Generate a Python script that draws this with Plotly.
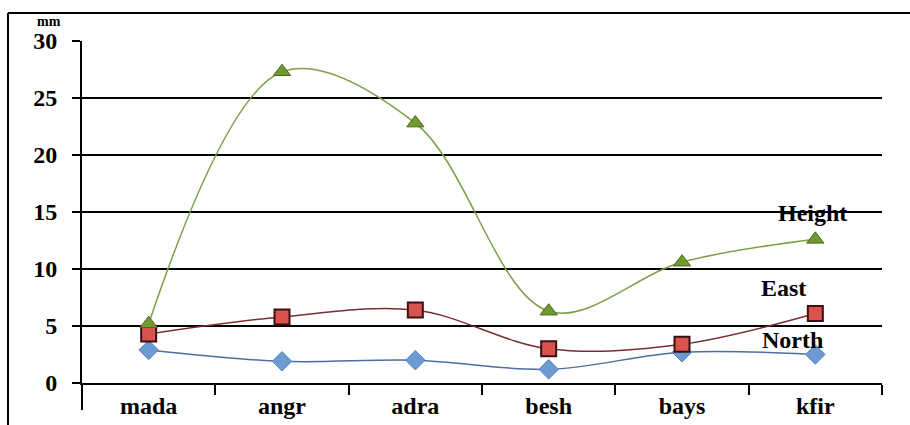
import plotly.graph_objects as go

categories = ["mada", "angr", "adra", "besh", "bays", "kfir"]
height_vals = [5.2, 27.3, 22.8, 6.3, 10.6, 12.6]
east_vals = [4.3, 5.8, 6.4, 3.0, 3.4, 6.1]
north_vals = [2.9, 1.9, 2.0, 1.2, 2.7, 2.5]
y_ticks = [0, 5, 10, 15, 20, 25, 30]

FONT = "Liberation Serif, Times New Roman, serif"

fig = go.Figure()
fig.add_trace(go.Scatter(
    x=categories, y=north_vals, name="North", mode="lines+markers",
    line=dict(color="#4A6FA0", width=1.5, shape="spline", smoothing=1),
    marker=dict(symbol="diamond", size=15, color="#6B9BD2",
                line=dict(color="#5A85B8", width=1))))
fig.add_trace(go.Scatter(
    x=categories, y=east_vals, name="East", mode="lines+markers",
    line=dict(color="#7A2E2E", width=1.5, shape="spline", smoothing=1),
    marker=dict(symbol="square", size=15, color="#D9534F",
                line=dict(color="#3A1010", width=2))))
fig.add_trace(go.Scatter(
    x=categories, y=height_vals, name="Height", mode="lines+markers",
    line=dict(color="#7BA048", width=1.5, shape="spline", smoothing=1),
    marker=dict(symbol="triangle-up", size=15, color="#6E9A2E",
                line=dict(color="#4F6228", width=1))))

fig.update_layout(
    width=910, height=425,
    margin=dict(l=82, r=28, t=41, b=42),
    paper_bgcolor="white", plot_bgcolor="white",
    showlegend=False,
    font=dict(family=FONT, color="black"),
    xaxis=dict(
        type="category", range=[-0.5, 5.5], tickson="boundaries",
        ticks="outside", ticklen=10, tickwidth=2, tickcolor="black",
        showline=True, linecolor="black", linewidth=2,
        showgrid=False, zeroline=False, automargin=False,
        tickfont=dict(family=FONT, size=24, color="black", weight="bold"),
    ),
    yaxis=dict(
        range=[0, 30], tickvals=y_ticks,
        ticks="outside", ticklen=8, tickwidth=2, tickcolor="black",
        showline=True, linecolor="black", linewidth=2,
        showgrid=True, gridcolor="black", gridwidth=2,
        zeroline=False, ticklabelstandoff=10, automargin=False,
        tickfont=dict(family=FONT, size=24, color="black", weight="bold"),
    ),
    shapes=[
        dict(type="line", xref="paper", yref="paper", x0=0, x1=0, y0=0, y1=-0.079,
             line=dict(color="black", width=2)),
        dict(type="line", xref="paper", yref="paper", x0=-0.0925, x1=-0.0925, y0=1.0819, y1=-0.2,
             line=dict(color="black", width=2)),
        dict(type="line", xref="paper", yref="paper", x0=-0.0925, x1=1.1, y0=1.0819, y1=1.0819,
             line=dict(color="black", width=2)),
    ],
    annotations=[
        dict(text="mm", xref="paper", yref="paper", x=(49 - 82) / 800, y=1 + (41 - 21) / 342,
             xanchor="center", yanchor="middle",
             showarrow=False, font=dict(family=FONT, size=14, weight="bold")),
        dict(text="Height", xref="paper", yref="y", x=(812 - 82) / 800, y=(383 - 213) / 11.4,
             xanchor="center", yanchor="middle",
             showarrow=False, font=dict(family=FONT, size=24, weight="bold")),
        dict(text="East", xref="paper", yref="y", x=(783 - 82) / 800, y=(383 - 288) / 11.4,
             xanchor="center", yanchor="middle",
             showarrow=False, font=dict(family=FONT, size=24, weight="bold")),
        dict(text="North", xref="paper", yref="y", x=(792 - 82) / 800, y=(383 - 340) / 11.4,
             xanchor="center", yanchor="middle",
             showarrow=False, font=dict(family=FONT, size=24, weight="bold")),
    ],
)

fig.write_html("out.html")
